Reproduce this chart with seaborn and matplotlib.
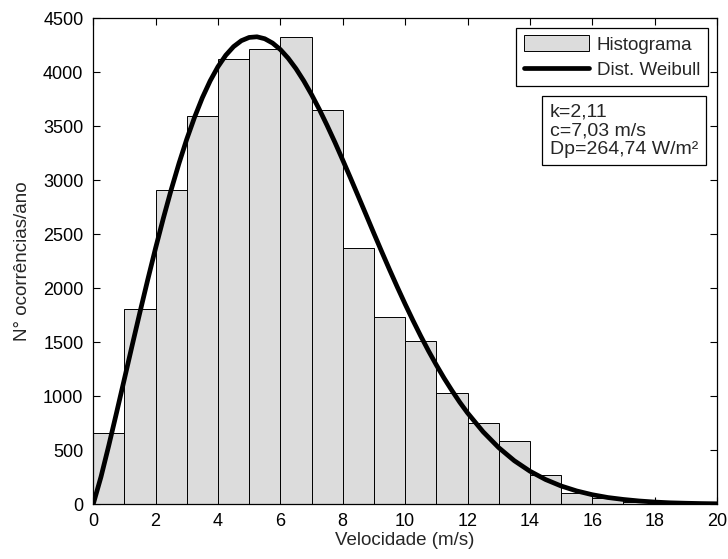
import numpy as np
import pandas as pd
import seaborn as sns
import matplotlib
matplotlib.use("Agg")
import matplotlib.pyplot as plt
from matplotlib.patches import Patch
from matplotlib.lines import Line2D

# Histogram: bin edges (m/s) and counts per year
bin_edges = [0, 1, 2, 3, 4, 5, 6, 7, 8, 9, 10, 11, 12, 13, 14, 15, 16, 17, 18, 19, 20]
bin_counts = [660, 1810, 2910, 3600, 4120, 4220, 4330, 3650, 2370, 1730,
              1510, 1030, 750, 590, 270, 100, 55, 25, 8, 3]

# Weibull curve
curve_x = [0, 0.25, 0.5, 0.75, 1, 1.25, 1.5, 1.75, 2, 2.25, 2.5, 2.75, 3, 3.25,
           3.5, 3.75, 4, 4.25, 4.5, 4.75, 5, 5.25, 5.5, 5.75, 6, 6.25, 6.5, 6.75,
           7, 7.25, 7.5, 7.75, 8, 8.25, 8.5, 8.75, 9, 9.25, 9.5, 9.75, 10, 10.25,
           10.5, 10.75, 11, 11.25, 11.5, 11.75, 12, 12.5, 13, 13.5, 14, 14.5, 15,
           15.5, 16, 16.5, 17, 17.5, 18, 18.5, 19, 19.5, 20]
curve_y = [0, 253, 544, 849, 1160, 1472, 1780, 2081, 2372, 2650, 2913, 3157,
           3382, 3585, 3766, 3922, 4053, 4159, 4239, 4294, 4324, 4330, 4312,
           4272, 4212, 4132, 4035, 3922, 3795, 3657, 3508, 3352, 3188, 3021,
           2851, 2680, 2508, 2339, 2173, 2011, 1854, 1703, 1558, 1420, 1290,
           1167, 1053, 945, 846, 671, 524, 403, 306, 229, 169, 123, 88, 62, 44,
           30, 20, 13, 9, 6, 4]

x_ticks = [0, 2, 4, 6, 8, 10, 12, 14, 16, 18, 20]
y_ticks = [0, 500, 1000, 1500, 2000, 2500, 3000, 3500, 4000, 4500]

legend_labels = ["Histograma", "Dist. Weibull"]
info_text = "k=2,11\nc=7,03 m/s\nDp=264,74 W/m²"
x_label = "Velocidade (m/s)"
y_label = "N° ocorrências/ano"

sns.set_style("ticks")
plt.rcParams["font.family"] = ["Liberation Sans", "DejaVu Sans"]

fig = plt.figure(figsize=(7.28, 5.59), dpi=100)
ax = fig.add_axes([0.128, 0.098, 0.857, 0.869])

hist_df = pd.DataFrame({"x": [e + 0.5 for e in bin_edges[:-1]], "w": bin_counts})
sns.histplot(data=hist_df, x="x", weights="w", bins=bin_edges, ax=ax,
             color="#dcdcdc", edgecolor="black", linewidth=0.7, alpha=1.0)

curve_df = pd.DataFrame({"x": curve_x, "y": curve_y})
sns.lineplot(data=curve_df, x="x", y="y", ax=ax, color="black", linewidth=3.4,
             solid_capstyle="round", solid_joinstyle="round")

ax.set_xlim(0, 20)
ax.set_ylim(0, 4500)
ax.set_xticks(x_ticks)
ax.set_yticks(y_ticks)
ax.tick_params(direction="in", top=True, right=True, length=5, width=0.8,
               labelsize=13, colors="black")
ax.tick_params(axis="y", pad=7)
ax.tick_params(axis="x", pad=6)
for s in ax.spines.values():
    s.set_visible(True)
    s.set_color("black")
    s.set_linewidth(0.9)
ax.set_xlabel(x_label, fontsize=13.5, labelpad=2)
ax.set_ylabel(y_label, fontsize=13.5, labelpad=9)

handles = [Patch(facecolor="#dcdcdc", edgecolor="black", linewidth=0.7),
           Line2D([0], [0], color="black", linewidth=3.4)]
leg = ax.legend(handles, legend_labels, loc="upper right", fontsize=13.5,
                frameon=True, fancybox=False, edgecolor="black", framealpha=1,
                handlelength=3.5, handleheight=0.9, borderaxespad=0.5,
                borderpad=0.4, labelspacing=0.38, handletextpad=0.4)
leg.get_frame().set_linewidth(0.9)

ax.text(0.732, 0.824, info_text, transform=ax.transAxes, fontsize=14,
        ha="left", va="top", linespacing=1.1,
        bbox=dict(boxstyle="square,pad=0.4", facecolor="white", edgecolor="black",
                  linewidth=0.9))

fig.savefig("out.png", dpi=100)
